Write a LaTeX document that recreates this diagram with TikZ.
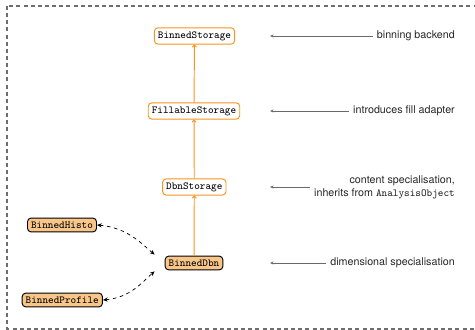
\documentclass[tikz,border=0pt]{standalone}
\usepackage{fontspec}
\setsansfont{TeX Gyre Heros}
\usetikzlibrary{arrows.meta}
\definecolor{binorange}{HTML}{F7941D}
\definecolor{binfill}{HTML}{F9C68A}
\definecolor{framegray}{HTML}{6E6E6E}
\definecolor{notegray}{HTML}{6A6A6A}
\begin{document}
\begin{tikzpicture}[x=0.84pt,y=-0.84pt,
  storage/.style={draw=binorange,line width=0.8pt,rounded corners=3pt,fill=white,font=\small\ttfamily,inner sep=3pt},
  binned/.style={draw=black,line width=0.8pt,rounded corners=3pt,fill=binfill,font=\small\ttfamily,inner sep=3pt},
  inherit/.style={draw=binorange,line width=0.8pt,-{To[length=2.5pt,width=4pt]}},
  assoc/.style={dashed,line width=0.6pt,{Stealth[length=4pt,width=3.5pt]}-{Stealth[length=4pt,width=3.5pt]}},
  note/.style={font=\small\sffamily,text=black!85,align=right,anchor=east},
  pointer/.style={draw=notegray,line width=0.6pt,-{Stealth[length=3pt,width=2.5pt]}},
  frame/.style={draw=framegray,line width=0.9pt,dash pattern=on 3.4pt off 2.6pt}]
\clip (0,0) rectangle (475,330);
\draw[frame] (7,6) rectangle (480,329);
% storage chain
\node[storage] (bstore) at (194.5,36) {BinnedStorage};
\node[storage] (fstore) at (194,111) {FillableStorage};
\node[storage] (dstore) at (194.3,187) {DbnStorage};
\node[binned] (bdbn) at (194,263) {BinnedDbn};
\node[binned] (bhisto) at (62,225) {BinnedHisto};
\node[binned] (bprof) at (62.3,300) {BinnedProfile};
\draw[inherit] (fstore) -- (bstore);
\draw[inherit] (dstore) -- (fstore);
\draw[inherit] (bdbn) -- (dstore);
\draw[assoc,shorten >=11pt] (bhisto.east) to[out=-5,in=140] (bdbn.west);
\draw[assoc,shorten >=11pt] (bprof.east) to[out=5,in=220] (bdbn.west);
% notes
\coordinate (p1) at (270,36);
\coordinate (p2) at (270,111);
\coordinate (p3) at (270,188);
\coordinate (p4) at (270,263);
\node[note] (n1) at (459,36) {binning backend};
\node[note] (n2) at (459,111) {introduces fill adapter};
\node[note] (n3) at (459,187) {content specialisation,\\inherits from \texttt{AnalysisObject}};
\node[note] (n4) at (459,263) {dimensional specialisation};
\draw[pointer] (n1.west) -- (p1 |- n1.west);
\draw[pointer] (n2.west) -- (p2 |- n2.west);
\draw[pointer] (n3.west) -- (p3 |- n3.west);
\draw[pointer] (n4.west) -- (p4 |- n4.west);
\end{tikzpicture}
\end{document}
